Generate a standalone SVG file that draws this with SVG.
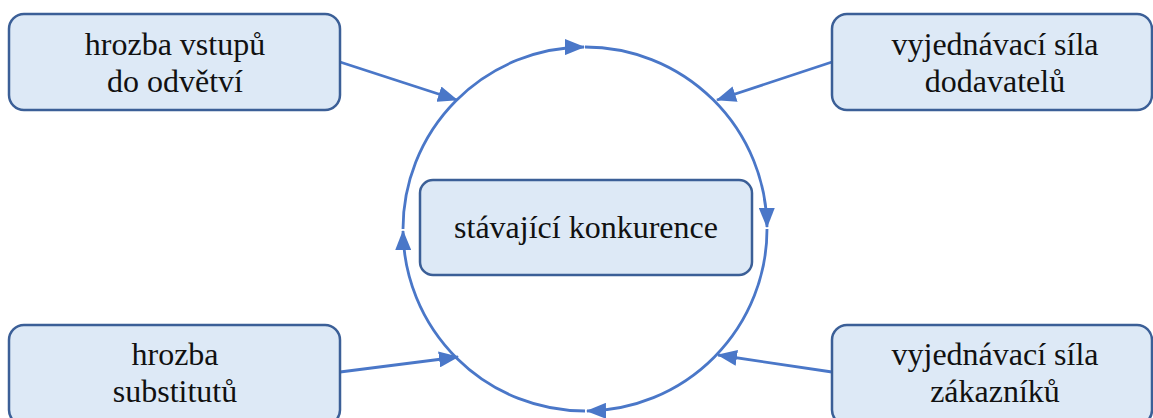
<svg xmlns="http://www.w3.org/2000/svg" width="1153" height="418" viewBox="0 0 1153 418">
  <style>
    .box { fill: #dde9f6; stroke: #3b5f97; stroke-width: 2.5; }
    .label { font-family: "Liberation Serif", "Times New Roman", serif; font-size: 32px; fill: #111; text-anchor: middle; }
    .link { fill: none; stroke: #4a77c8; stroke-width: 2.8; }
  </style>
  <defs>
    <marker id="arrow" markerUnits="userSpaceOnUse" markerWidth="20" markerHeight="16" viewBox="0 0 20 16" refX="19" refY="8" orient="auto">
      <path d="M0,0 L20,8 L0,16 Z" fill="#4a77c8"/>
    </marker>
  </defs>

  <!-- connectors: the cycle around the centre and the four forces -->
  <g id="connectors">
    <path class="link" d="M403,229 A182,182 0 0 1 584,47" marker-end="url(#arrow)"/>
    <path class="link" d="M585,47 A182,182 0 0 1 767,227" marker-end="url(#arrow)"/>
    <path class="link" d="M767,229 A182,182 0 0 1 587,411" marker-end="url(#arrow)"/>
    <path class="link" d="M585,411 A182,182 0 0 1 403,231" marker-end="url(#arrow)"/>
    <line class="link" x1="340" y1="62" x2="457" y2="100" marker-end="url(#arrow)"/>
    <line class="link" x1="832" y1="62" x2="717" y2="100" marker-end="url(#arrow)"/>
    <line class="link" x1="340" y1="372" x2="458" y2="357" marker-end="url(#arrow)"/>
    <line class="link" x1="832" y1="372" x2="718" y2="355" marker-end="url(#arrow)"/>
  </g>

  <g id="threat-entry">
    <rect class="box" x="9" y="14" width="331" height="96" rx="15"/>
    <text class="label" x="175" y="55">hrozba vstupů</text>
    <text class="label" x="175" y="92">do odvětví</text>
  </g>

  <g id="supplier-power">
    <rect class="box" x="832" y="14" width="320" height="96" rx="15"/>
    <text class="label" x="995" y="55">vyjednávací síla</text>
    <text class="label" x="995" y="92">dodavatelů</text>
  </g>

  <g id="rivalry">
    <rect class="box" x="420" y="180" width="332" height="95" rx="13"/>
    <text class="label" x="586" y="238">stávající konkurence</text>
  </g>

  <g id="threat-substitutes">
    <rect class="box" x="9" y="325" width="331" height="100" rx="15"/>
    <text class="label" x="175" y="365">hrozba</text>
    <text class="label" x="175" y="402">substitutů</text>
  </g>

  <g id="buyer-power">
    <rect class="box" x="832" y="325" width="320" height="100" rx="15"/>
    <text class="label" x="995" y="365">vyjednávací síla</text>
    <text class="label" x="995" y="402">zákazníků</text>
  </g>
</svg>
